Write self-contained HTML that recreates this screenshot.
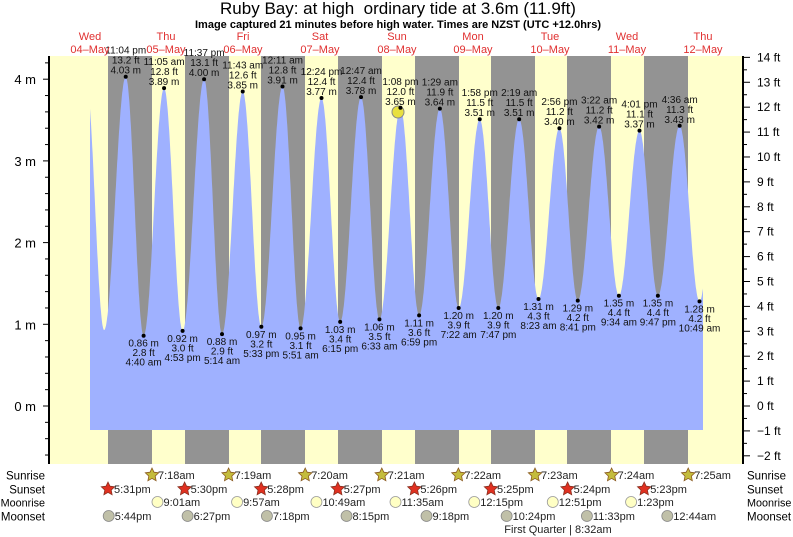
<!DOCTYPE html>
<html><head><meta charset="utf-8"><style>
html,body{margin:0;padding:0;background:#fff;width:793px;height:537px;overflow:hidden}
svg{display:block;font-family:"Liberation Sans",sans-serif}
</style></head><body>
<svg id="s" width="793" height="537" xmlns="http://www.w3.org/2000/svg"></svg>
<script>
const S=document.getElementById('s');let h='';
const X0=52.1,PH=3.192,Y0=406,PM=81.7;
const X=t=>X0+t*PH, Y=m=>Y0-m*PM;
h+='<rect x="49" y="56" width="694" height="408" fill="#ffffcc"/>';
[108,185,261,338,415,491,567,644].forEach(x=>h+=`<rect x="${x}" y="56" width="44" height="408" fill="#939393"/>`);
const ev=[[10.6,4.0],[16.3,0.93],[23.07,4.03,'11:04 pm'],[28.67,0.86,'4:40 am'],[35.08,3.89,'11:05 am'],[40.88,0.92,'4:53 pm'],[47.62,4.00,'11:37 pm'],[53.23,0.88,'5:14 am'],[59.72,3.85,'11:43 am'],[65.55,0.97,'5:33 pm'],[72.18,3.91,'12:11 am'],[77.85,0.95,'5:51 am'],[84.4,3.77,'12:24 pm'],[90.25,1.03,'6:15 pm'],[96.78,3.78,'12:47 am'],[102.55,1.06,'6:33 am'],[109.13,3.65,'1:08 pm'],[114.98,1.11,'6:59 pm'],[121.48,3.64,'1:29 am'],[127.37,1.20,'7:22 am'],[133.97,3.51,'1:58 pm'],[139.78,1.20,'7:47 pm'],[146.32,3.51,'2:19 am'],[152.38,1.31,'8:23 am'],[158.93,3.40,'2:56 pm'],[164.68,1.29,'8:41 pm'],[171.37,3.42,'3:22 am'],[177.57,1.35,'9:34 am'],[184.02,3.37,'4:01 pm'],[189.78,1.35,'9:47 pm'],[196.6,3.43,'4:36 am'],[202.82,1.28,'10:49 am'],[209,3.4]];
function val(t){for(let i=0;i<ev.length-1;i++){const a=ev[i],b=ev[i+1];if(t>=a[0]&&t<=b[0]){const f=(t-a[0])/(b[0]-a[0]);return a[1]+(b[1]-a[1])*(1-Math.cos(Math.PI*f))/2;}}return 0;}
const ts=(90-X0)/PH,te=(703-X0)/PH;
let p=`M90,430 `;for(let t=ts;t<=te;t+=0.1)p+=`L${X(t).toFixed(1)},${Y(val(t)).toFixed(1)} `;
p+=`L703,${Y(val(te)).toFixed(1)} L703,430 Z`;
h+=`<path d="${p}" fill="#9fb1ff"/>`;
h+=`<circle cx="398" cy="112" r="6" fill="#e8e040" stroke="#888" stroke-width="1"/>`;
ev.forEach((e,i)=>{if(!e[2])return;const x=X(e[0]),y=Y(e[1]);const ft=(e[1]/0.3048).toFixed(1);
h+=`<circle cx="${x}" cy="${y}" r="2" fill="#000"/>`;
const st=`font-size="10" text-anchor="middle" fill="#111"`;
if(e[1]>2){h+=`<text x="${x}" y="${y-3}" ${st}>${e[1].toFixed(2)} m</text><text x="${x}" y="${y-13}" ${st}>${ft} ft</text><text x="${x}" y="${y-23}" ${st}>${e[2]}</text>`;}
else{h+=`<text x="${x}" y="${y+11}" ${st}>${e[1].toFixed(2)} m</text><text x="${x}" y="${y+20.5}" ${st}>${ft} ft</text><text x="${x}" y="${y+30}" ${st}>${e[2]}</text>`;}
});
h+='<line x1="49" y1="56" x2="49" y2="464" stroke="#000" stroke-width="2"/><line x1="743" y1="56" x2="743" y2="464" stroke="#000" stroke-width="2"/>';
for(let m=-0.6;m<=4.3;m+=0.2){const y=Y(m);const mj=Math.abs(m-Math.round(m))<0.01;h+=`<line x1="${mj?43:45}" y1="${y}" x2="49" y2="${y}" stroke="#000"/>`;if(mj)h+=`<text x="36" y="${y+5}" font-size="13" text-anchor="end">${Math.round(m)} m</text>`;}
for(let f=-2;f<=14;f+=0.5){const y=Y(f*0.3048);const mj=f%1==0;h+=`<line x1="743" y1="${y}" x2="${mj?750:747}" y2="${y}" stroke="#000"/>`;if(mj)h+=`<text x="757" y="${y+4}" font-size="12">${f<0?'\u2212'+(-f):f} ft</text>`;}
h+='<text x="398" y="14" font-size="17" text-anchor="middle">Ruby Bay: at high&#160; ordinary tide at 3.6m (11.9ft)</text>';
h+='<text x="398" y="28" font-size="11" font-weight="bold" text-anchor="middle">Image captured 21 minutes before high water. Times are NZST (UTC +12.0hrs)</text>';
[['Wed','04\u2013May',90],['Thu','05\u2013May',166],['Fri','06\u2013May',243],['Sat','07\u2013May',320],['Sun','08\u2013May',397],['Mon','09\u2013May',473],['Tue','10\u2013May',550],['Wed','11\u2013May',627],['Thu','12\u2013May',703]].forEach(d=>{h+=`<text x="${d[2]}" y="40" font-size="11" fill="#e03030" text-anchor="middle">${d[0]}</text><text x="${d[2]}" y="53" font-size="11" fill="#e03030" text-anchor="middle">${d[1]}</text>`;});
const rows=[['Sunrise',475],['Sunset',489],['Moonrise',502],['Moonset',516]];
rows.forEach(r=>{h+=`<text x="45" y="${r[1]+4.5}" font-size="${r[0]=='Moonrise'?10.8:11.5}" text-anchor="end">${r[0]}</text><text x="747" y="${r[1]+4.5}" font-size="${r[0]=='Moonrise'?10.8:11.5}">${r[0]}</text>`;});
function star(cx,cy,fill,stroke){let q='';for(let i=0;i<10;i++){const a=-Math.PI/2+i*Math.PI/5,r=i%2?3.4:7;q+=(cx+r*Math.cos(a)).toFixed(1)+','+(cy+r*Math.sin(a)).toFixed(1)+' ';}return `<polygon points="${q}" fill="${fill}" stroke="${stroke}" stroke-width="0.8"/>`;}
const lab=(x,y,t)=>`<text x="${x+6}" y="${y+4}" font-size="11" fill="#222">${t}</text>`;
['7:18am','7:19am','7:20am','7:21am','7:22am','7:23am','7:24am','7:25am'].forEach((t,i)=>{const x=152+i*76.6;h+=star(x,475,'#c4bc3c','#8a5a20')+lab(x,475,t);});
['5:31pm','5:30pm','5:28pm','5:27pm','5:26pm','5:25pm','5:24pm','5:23pm'].forEach((t,i)=>{const x=108+i*76.6;h+=star(x,489,'#e03020','#8a3020')+lab(x,489,t);});
const tm=s=>{let[a,b]=s.slice(0,-2).split(':').map(Number);const pm=s.endsWith('pm');if(a==12)a=0;return a+(pm?12:0)+b/60;};
[['9:01am',1],['9:57am',2],['10:49am',3],['11:35am',4],['12:15pm',5],['12:51pm',6],['1:23pm',7]].forEach(m=>{const x=X(m[1]*24+tm(m[0]));h+=`<circle cx="${x}" cy="502" r="5.5" fill="#ffffc4" stroke="#999" stroke-width="0.8"/>`+lab(x,502,m[0]);});
[['5:44pm',0],['6:27pm',1],['7:18pm',2],['8:15pm',3],['9:18pm',4],['10:24pm',5],['11:33pm',6],['12:44am',8]].forEach(m=>{const x=X(m[1]*24+tm(m[0]));h+=`<circle cx="${x}" cy="516" r="5.5" fill="#c0c0a8" stroke="#888" stroke-width="0.8"/>`+lab(x,516,m[0]);});
h+='<text x="558" y="533" font-size="11" text-anchor="middle" fill="#222">First Quarter | 8:32am</text>';
S.innerHTML=h;
</script>
</body></html>
